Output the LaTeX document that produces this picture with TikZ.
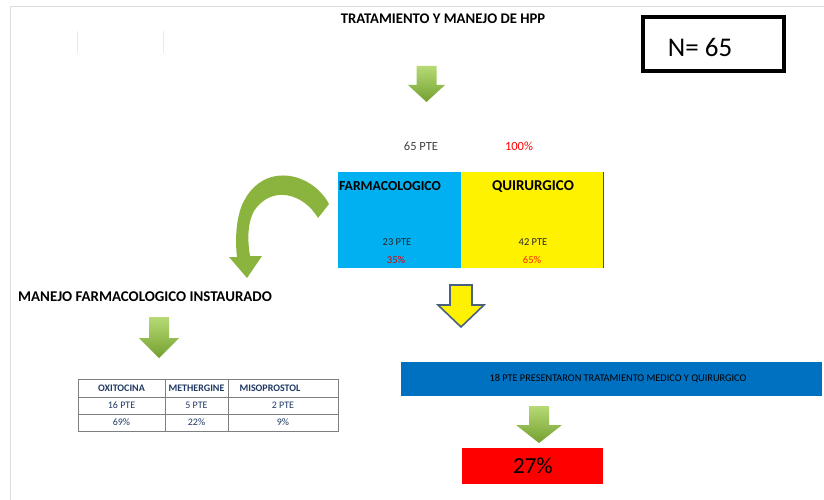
\documentclass[tikz,border=0pt]{standalone}
\usepackage{fontspec}
\setmainfont{Carlito}
\definecolor{glight}{HTML}{B6DA74}
\definecolor{gdark}{HTML}{74A030}
\definecolor{curvegreen}{HTML}{8AB43E}
\definecolor{skyblue}{HTML}{00B0F0}
\definecolor{barblue}{HTML}{0070C0}
\definecolor{tabtext}{HTML}{1F3864}
\definecolor{tabline}{HTML}{7F7F7F}
\definecolor{gridgray}{HTML}{DCDCDC}
\definecolor{txtgray}{HTML}{404040}
\definecolor{slate}{HTML}{4A6082}
\newcommand{\dnarrow}[7]{% style, cx, top, shaft half, head half, head base, tip
  \path[#1] ({#2-#4},#3) -- ({#2+#4},#3) -- ({#2+#4},#6) -- ({#2+#5},#6) -- (#2,#7) -- ({#2-#5},#6) -- ({#2-#4},#6) -- cycle;}
\tikzset{
  greenarrow/.style={top color=glight, bottom color=gdark, draw=none},
  yellowarrow/.style={fill=yellow, draw=slate, line width=1.6pt, line join=miter},
  boldtxt/.style={font=\bfseries, inner sep=0pt},
  plaintxt/.style={inner sep=0pt},
  smalltxt/.style={inner sep=0pt, font=\fontsize{10.5}{10.5}\selectfont},
  tabhead/.style={font=\bfseries\fontsize{10}{10}\selectfont, text=tabtext, inner sep=0pt},
  tabcell/.style={font=\fontsize{10}{10}\selectfont, text=tabtext, inner sep=0pt},
  tabrule/.style={draw=tabline, line width=0.9pt}
}
\begin{document}
\begin{tikzpicture}[x=1pt,y=-1pt]
\useasboundingbox (0,0) rectangle (824,500);
% faint sheet grid
\draw[gridgray, line width=0.8pt] (10,500) -- (10,6) -- (824,6);
\draw[gridgray!60, line width=0.8pt] (77,31) -- (77,53) (163,31) -- (163,53);

% title
\node[boldtxt, font=\bfseries\fontsize{14.7}{14.7}\selectfont] (title) at (443,19) {TRATAMIENTO Y MANEJO DE HPP};

% N box
\node[draw=black, line width=4.5pt, minimum width=141pt, minimum height=54pt, inner sep=0pt] (nbox) at (713.5,44) {};
\node[plaintxt, font=\fontsize{27}{27}\selectfont] (ntext) at (700,47) {N= 65};

% first green arrow
\dnarrow{greenarrow}{426.5}{66}{10}{18.5}{85}{102}

\node[plaintxt, text=txtgray, font=\fontsize{12.5}{12.5}\selectfont] (pte65) at (421,146) {65 PTE};
\node[plaintxt, text=red, font=\fontsize{12.5}{12.5}\selectfont] (p100) at (519,146) {100\%};

% boxes
\fill[skyblue] (338,172) rectangle (461,268);
\fill[yellow] (461,172) rectangle (603,268);
\draw[black!70, line width=1pt] (603,172) -- (603,268);
\node[boldtxt, anchor=west, font=\bfseries\fontsize{13.7}{13.7}\selectfont] (farm) at (339,186) {FARMACOLOGICO};
\node[boldtxt, font=\bfseries\fontsize{15}{15}\selectfont] (quir) at (533,187) {QUIRURGICO};
\node[smalltxt, text=black!85] (pte23) at (397,242) {23 PTE};
\node[smalltxt, text=red!85!black] (p35) at (396,260) {35\%};
\node[smalltxt, text=black!85] (pte42) at (533,242) {42 PTE};
\node[smalltxt, text=orange!30!red] (p65) at (532,260) {65\%};

% curved arrow
\fill[curvegreen] (329,204) .. controls (312,172) and (262,160) .. (242,205)
  .. controls (236,220) and (235,240) .. (237,257)
  -- (229,257) -- (247,278) -- (262,256) -- (250,256)
  .. controls (247,238) and (248,222) .. (254,211)
  .. controls (272,184) and (304,194) .. (318,218) -- cycle;

% left section
\node[boldtxt, font=\bfseries\fontsize{14.9}{14.9}\selectfont] (manejo) at (145,297) {MANEJO FARMACOLOGICO INSTAURADO};
\dnarrow{greenarrow}{159}{317}{10}{20}{338}{358}

% table
\draw[tabrule] (78,379) rectangle (338,431);
\draw[tabrule] (78,397) -- (338,397) (78,414) -- (338,414);
\draw[tabrule] (165,379) -- (165,431) (228,379) -- (228,431);
\node[tabhead] (oxi) at (121.5,388) {OXITOCINA};
\node[tabhead] (met) at (196.5,388) {METHERGINE};
\node[tabhead] (miso) at (270,388) {MISOPROSTOL};
\node[tabcell] (c16) at (121.5,405.5) {16 PTE};
\node[tabcell] (c5) at (196.5,405.5) {5 PTE};
\node[tabcell] (c2) at (283,405.5) {2 PTE};
\node[tabcell] (c69) at (121.5,422.5) {69\%};
\node[tabcell] (c22) at (196.5,422.5) {22\%};
\node[tabcell] (c9) at (283,422.5) {9\%};

% yellow arrow
\dnarrow{yellowarrow}{461}{285}{11}{23}{305}{327}

% blue bar
\fill[barblue] (401,362) rectangle (822,396);
\node[plaintxt, font=\fontsize{10.3}{10.3}\selectfont] (bartext) at (618,379) {18 PTE PRESENTARON TRATAMIENTO MEDICO Y QUIRURGICO};

% last green arrow
\dnarrow{greenarrow}{539}{406}{10}{23}{425}{443}

% red box
\fill[red] (462,448) rectangle (603,484);
\node[plaintxt, font=\fontsize{23}{23}\selectfont] (p27) at (533,466) {27\%};
\end{tikzpicture}
\end{document}
